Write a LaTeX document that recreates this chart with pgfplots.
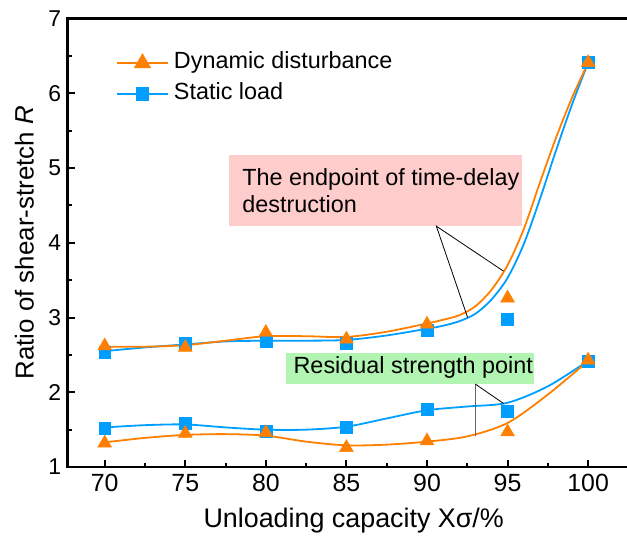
\documentclass[border=0pt]{standalone}
\usepackage{fontspec}
\setmainfont{Liberation Sans}
\usepackage{pgfplots}
\pgfplotsset{compat=1.18}
\usetikzlibrary{calc}

\definecolor{dynorange}{RGB}{255,128,0}
\definecolor{statblue}{RGB}{0,158,255}
\definecolor{boxpink}{RGB}{255,204,204}
\definecolor{boxgreen}{RGB}{178,244,178}

% measured ratios (marks)
\pgfplotstableread{
x    dynU  statU  dynL  statL
70   2.62  2.53   1.32  1.52
75   2.60  2.65   1.45  1.58
80   2.80  2.68   1.46  1.48
85   2.71  2.65   1.26  1.53
90   2.91  2.83   1.35  1.77
95   3.26  2.98   1.47  1.75
100  6.41  6.41   2.43  2.42
}\ratiotable

% fitted trend curves
\pgfplotstableread{
x     y
70    2.61
72.5  2.61
75    2.63
77.5  2.69
80    2.75
82.5  2.75
85    2.74
87.5  2.81
90    2.92
91    2.97
92    3.03
93    3.15
94    3.37
95    3.70
96    4.18
97    4.80
98    5.40
99    5.94
100   6.41
}\dynUfit
\pgfplotstableread{
x     y
70    2.55
72.5  2.60
75    2.64
77.5  2.68
80    2.69
82.5  2.69
85    2.70
87.5  2.76
90    2.85
91    2.89
92    2.95
93    3.05
94    3.24
95    3.53
96    3.98
97    4.58
98    5.23
99    5.85
100   6.41
}\statUfit
\pgfplotstableread{
x     y
70    1.33
72.5  1.39
75    1.43
77.5  1.44
80    1.42
82.5  1.34
85    1.29
87.5  1.30
90    1.34
92.5  1.41
95    1.59
97.5  1.97
100   2.42
}\dynLfit
\pgfplotstableread{
x     y
70    1.53
72.5  1.56
75    1.57
77.5  1.53
80    1.50
82.5  1.50
85    1.54
87.5  1.65
90    1.76
92.5  1.81
95    1.86
97.5  2.08
100   2.42
}\statLfit

\begin{document}
\begin{tikzpicture}
\begin{axis}[
  name=ax,
  scale only axis, width=561.5bp, height=449bp,
  xmin=67.7, xmax=102.51, ymin=1, ymax=7,
  axis line style={line width=2.4bp},
  xtick={70,75,...,100}, ytick={1,2,...,7},
  minor xtick={72.5,77.5,...,97.5}, minor ytick={1.5,2.5,...,6.5},
  tick pos=left,
  tick align=inside,
  major tick length=0.247cm, minor tick length=0.141cm,
  tick style={black, line width=2bp},
  /pgf/number format/assume math mode=true,
  xticklabel style={font=\fontsize{25}{25}\selectfont, yshift=-4bp},
  yticklabel style={font=\fontsize{23}{23}\selectfont, xshift=-3bp},
  every axis x label/.style={at={(axis description cs:0.51,-0.1203)}, anchor=center,
    font=\fontsize{27}{27}\selectfont},
  every axis y label/.style={at={(axis description cs:-0.077,0.5)}, rotate=90, anchor=center,
    font=\fontsize{26}{26}\selectfont},
  xlabel={Unloading capacity Xσ/\%},
  ylabel={Ratio of shear-stretch \textit{R}},
  legend image code/.code={%
    \draw[mark repeat=2,mark phase=2,#1] plot coordinates {(0bp,0bp) (26bp,0bp) (52bp,0bp)};},
  legend style={draw=none, fill=none, inner sep=0pt,
    font=\fontsize{23.5}{23.5}\selectfont,
    nodes={inner xsep=4.5bp, inner ysep=4.8bp, text height=16bp, text depth=5bp},
    at={(axis description cs:0.085,0.935)}, anchor=north west},
  legend cell align=left,
]
% legend entries
\addlegendimage{dynorange, line width=2bp, mark=triangle*, mark size=8bp}
\addlegendentry{Dynamic disturbance}
\addlegendimage{statblue, line width=2bp, mark=square*, mark size=6bp}
\addlegendentry{Static load}

% inward tick strokes along the bottom and left axis lines (axis units)
\draw[black, line width=2bp]
  (axis cs:70,1) -- (axis cs:70,1.094)   (axis cs:75,1) -- (axis cs:75,1.094)
  (axis cs:80,1) -- (axis cs:80,1.094)   (axis cs:85,1) -- (axis cs:85,1.094)
  (axis cs:90,1) -- (axis cs:90,1.094)   (axis cs:95,1) -- (axis cs:95,1.094)
  (axis cs:100,1) -- (axis cs:100,1.094)
  (axis cs:72.5,1) -- (axis cs:72.5,1.053) (axis cs:77.5,1) -- (axis cs:77.5,1.053)
  (axis cs:82.5,1) -- (axis cs:82.5,1.053) (axis cs:87.5,1) -- (axis cs:87.5,1.053)
  (axis cs:92.5,1) -- (axis cs:92.5,1.053) (axis cs:97.5,1) -- (axis cs:97.5,1.053)
  (axis cs:67.7,2) -- (axis cs:68.134,2)   (axis cs:67.7,3) -- (axis cs:68.134,3)
  (axis cs:67.7,4) -- (axis cs:68.134,4)   (axis cs:67.7,5) -- (axis cs:68.134,5)
  (axis cs:67.7,6) -- (axis cs:68.134,6)
  (axis cs:67.7,1.5) -- (axis cs:67.95,1.5) (axis cs:67.7,2.5) -- (axis cs:67.95,2.5)
  (axis cs:67.7,3.5) -- (axis cs:67.95,3.5) (axis cs:67.7,4.5) -- (axis cs:67.95,4.5)
  (axis cs:67.7,5.5) -- (axis cs:67.95,5.5) (axis cs:67.7,6.5) -- (axis cs:67.95,6.5);

% trend curves
\addplot[statblue, line width=1.8bp, smooth, no marks, forget plot] table {\statUfit};
\addplot[dynorange, line width=1.8bp, smooth, no marks, forget plot] table {\dynUfit};
\addplot[statblue, line width=1.8bp, smooth, no marks, forget plot] table {\statLfit};
\addplot[dynorange, line width=1.8bp, smooth, no marks, forget plot] table {\dynLfit};

% measured points
\addplot[only marks, mark=square*, statblue, mark size=6bp, forget plot] table[x=x, y=statU] {\ratiotable};
\addplot[only marks, mark=square*, statblue, mark size=6bp, forget plot] table[x=x, y=statL] {\ratiotable};
\addplot[only marks, mark=triangle*, dynorange, mark size=8bp, forget plot] table[x=x, y=dynU] {\ratiotable};
\addplot[only marks, mark=triangle*, dynorange, mark size=8bp, forget plot] table[x=x, y=dynL] {\ratiotable};

% annotation: end of time-delay failure
\fill[boxpink] (axis cs:77.70,4.222) rectangle (axis cs:95.89,5.171);
\node[anchor=base west, inner sep=0pt, font=\fontsize{23.5}{23.5}\selectfont] at (axis cs:78.53,4.77) {The endpoint of time-delay};
\node[anchor=base west, inner sep=0pt, font=\fontsize{23.5}{23.5}\selectfont] at (axis cs:78.53,4.40) {destruction};
\draw[black, line width=0.8bp] (axis cs:94.75,3.62) -- (axis cs:90.58,4.222) -- (axis cs:92.52,3.00);

% annotation: residual strength
\fill[boxgreen] (axis cs:81.28,2.11) rectangle (axis cs:96.65,2.524);
\node[anchor=base west, inner sep=0pt, font=\fontsize{23.5}{23.5}\selectfont] at (axis cs:81.71,2.25) {Residual strength point};
\draw[black!60, line width=1.5bp] (axis cs:93.0,2.11) -- (axis cs:93.0,1.42);
\draw[black, line width=0.8bp] (axis cs:93.0,2.11) -- (axis cs:94.75,1.85);
\end{axis}
\pgfresetboundingbox
\path ($(ax.south west)+(-67.7bp,-70bp)$) rectangle ($(ax.north east)+(-1.6bp,18.5bp)$);
\end{tikzpicture}
\end{document}
